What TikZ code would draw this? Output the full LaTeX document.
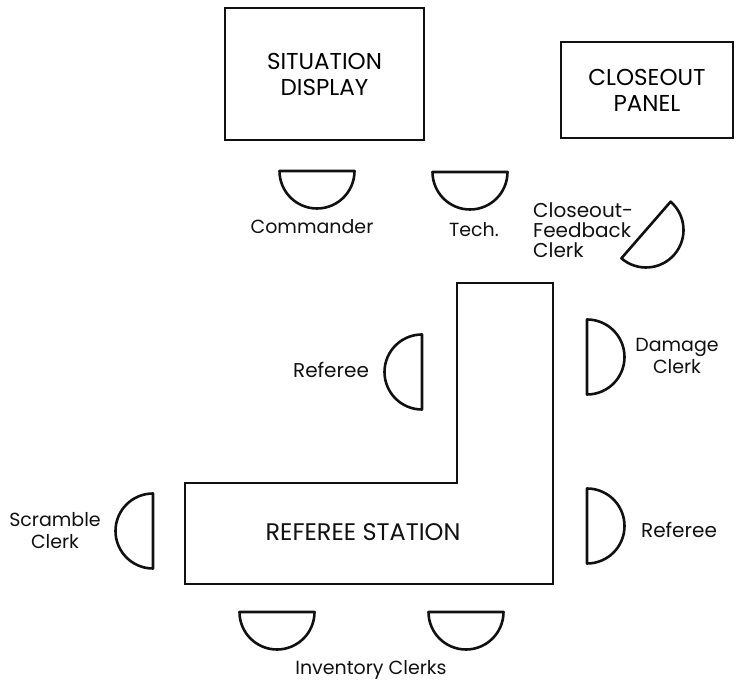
\documentclass[tikz,border=0pt]{standalone}
\usepackage{fontspec}
\setmainfont{Poppins}
\usepackage{tikz}
\definecolor{InkBlack}{RGB}{17,17,17}
\tikzset{
  panel/.style={draw=InkBlack,line width=2.6pt,align=center,inner sep=0pt,font=\fontsize{23}{26}\selectfont},
  station/.style={draw=InkBlack,line width=2.6pt,line join=miter},
  seatline/.style={draw=InkBlack,line width=2.6pt,line join=round},
  tag/.style={align=center,inner sep=0pt,text=InkBlack,font=\fontsize{19}{22}\selectfont},
  seat/.pic={\draw[seatline] (0pt,37.5pt) -- (0pt,-37.5pt) arc[start angle=-90,end angle=90,radius=37.5pt] -- cycle;}
}

\begin{document}
\begin{tikzpicture}[x=1pt,y=1pt]
\useasboundingbox (0,0) rectangle (736,685);
% display panels
\node[panel,minimum width=199pt,minimum height=132pt] (sitdisp) at (324.5,611) {SITUATION\\DISPLAY};
\node[panel,minimum width=172pt,minimum height=96pt] (closepanel) at (647,595) {CLOSEOUT\\PANEL};
% referee station (L shape)
\draw[station] (185,202) -- (457,202) -- (457,402) -- (553,402) -- (553,101) -- (185,101) -- cycle;
\node[tag,font=\fontsize{24}{26}\selectfont] (refstation) at (363,153) {REFEREE STATION};
% seats
\pic[rotate=270] (cmdrseat) at (317,514) {seat};
\pic[rotate=270] (techseat) at (470,513) {seat};
\pic[rotate=-41] (fbseat) at (646,455) {seat};
\pic[rotate=180] (refseatl) at (422,313) {seat};
\pic (dmgseat) at (587,328) {seat};
\pic[rotate=180] (scrseat) at (153,154) {seat};
\pic (refseatr) at (587,159) {seat};
\pic[rotate=270] (invseata) at (277,73) {seat};
\pic[rotate=270] (invseatb) at (466,73) {seat};
% labels
\node[tag] (cmdr) at (312,458) {Commander};
\node[tag] (tech) at (474,455) {Tech.};
\node[tag,align=left,anchor=west,font=\fontsize{20}{20}\selectfont] (fbclerk) at (533,455) {Closeout-\\Feedback\\Clerk};
\node[tag,font=\fontsize{20}{22}\selectfont] (refl) at (331,315) {Referee};
\node[tag] (dmgclerk) at (677,329) {Damage\\Clerk};
\node[tag] (scrclerk) at (55,154) {Scramble\\Clerk};
\node[tag,font=\fontsize{20}{22}\selectfont] (refr) at (679,155) {Referee};
\node[tag] (invclerks) at (371,15) {Inventory Clerks};
\end{tikzpicture}
\end{document}
